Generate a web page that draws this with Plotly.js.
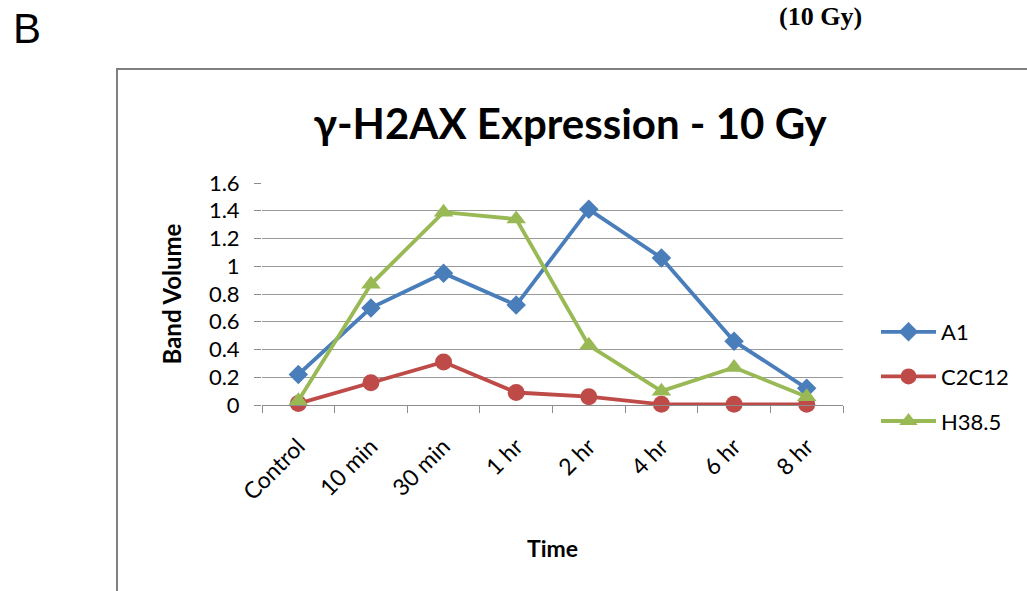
<!DOCTYPE html>
<html>
<head>
<meta charset="utf-8">
<script src="https://cdn.plot.ly/plotly-3.0.1.min.js"></script>
<style>html,body{margin:0;padding:0;background:#fff;}#chart{width:1027px;height:591px;}</style>
</head>
<body>
<div id="chart"></div>
<script>
const categories = ["Control", "10 min", "30 min", "1 hr", "2 hr", "4 hr", "6 hr", "8 hr"];
const seriesNames = ["A1", "C2C12", "H38.5"];
const a1 = [0.22, 0.70, 0.95, 0.72, 1.41, 1.06, 0.46, 0.12];
const c2c12 = [0.01, 0.16, 0.31, 0.09, 0.06, 0.005, 0.005, 0.005];
const h385 = [0.03, 0.87, 1.39, 1.34, 0.43, 0.10, 0.27, 0.06];
const yTicks = [0, 0.2, 0.4, 0.6, 0.8, 1, 1.2, 1.4, 1.6];
const yTickText = ["0", "0.2", "0.4", "0.6", "0.8", "1", "1.2", "1.4", "1.6"];

const FONT = "Lato, 'Open Sans', sans-serif";
const colors = ["#4A7EBB", "#BE4B48", "#98B954"];
const symbols = ["diamond", "circle", "triangle-up"];
const sizes = [15, 17, 17];
const values = [a1, c2c12, h385];

const traces = values.map((v, i) => ({
  type: "scatter",
  mode: "lines+markers",
  x: categories,
  y: v,
  name: seriesNames[i],
  legendgroup: "g" + i,
  line: {color: colors[i], width: 3.8},
  marker: {color: colors[i], symbol: symbols[i], size: sizes[i]},
  cliponaxis: false
}));

const W = 581, H = 222, L = 262, T = 183;
function px(x) { return (x - L) / W; }
function py(y) { return (T + H - y) / H; }

const layout = {
  width: 1027, height: 591,
  margin: {l: L, r: 1027 - L - W, t: T, b: 591 - T - H},
  paper_bgcolor: "#fff", plot_bgcolor: "#fff",
  showlegend: true,
  title: {
    text: "<b>γ-H2AX Expression - 10 Gy</b>",
    font: {family: FONT, size: 42, color: "#000"},
    x: 570 / 1027, xanchor: "center", y: 1 - 124 / 591, yanchor: "middle"
  },
  xaxis: {
    type: "category",
    tickson: "boundaries",
    ticks: "outside", ticklen: 7, tickcolor: "#8c8c8c", tickwidth: 1,
    showline: true, linecolor: "#8c8c8c", linewidth: 1,
    showgrid: false, zeroline: false,
    tickangle: -45,
    ticklabelstandoff: 18,
    tickfont: {family: FONT, size: 23, color: "#000"},
    title: {text: "<b>Time</b>", font: {family: FONT, size: 23, color: "#000"}, standoff: 36},
    range: [-0.5, 7.5]
  },
  yaxis: {
    range: [0, 1.6],
    tickvals: yTicks, ticktext: yTickText,
    ticks: "outside", ticklen: 7, tickcolor: "#8c8c8c",
    ticklabelstandoff: 10,
    showline: false, zeroline: false,
    showgrid: true, gridcolor: "#9a9a9a", gridwidth: 1,
    tickfont: {family: FONT, size: 22, color: "#000"},
    title: {text: "<b>Band Volume</b>", font: {family: FONT, size: 24, color: "#000"}, standoff: 20}
  },
  legend: {
    x: px(876), xanchor: "left", y: py(311), yanchor: "top",
    font: {family: FONT, size: 22, color: "#000"},
    tracegroupgap: 13, itemwidth: 55,
    bgcolor: "rgba(0,0,0,0)"
  },
  shapes: [{
    type: "rect", xref: "paper", yref: "paper",
    x0: px(117), x1: px(1100), y0: py(69), y1: py(700),
    line: {color: "#808080", width: 2}, fillcolor: "rgba(0,0,0,0)"
  }],
  annotations: [
    {text: "B", xref: "paper", yref: "paper", x: px(11), y: py(28), xanchor: "left", yanchor: "middle",
     showarrow: false, font: {family: "'Liberation Sans Narrow', 'Liberation Sans', sans-serif", size: 42, color: "#000"}},
    {text: "<b>(10 Gy)</b>", xref: "paper", yref: "paper", x: px(820), y: py(0), xanchor: "center", yanchor: "top",
     showarrow: false, font: {family: "'Liberation Serif', serif", size: 26, color: "#000"}}
  ]
};

Plotly.newPlot("chart", traces, layout, {displayModeBar: false, staticPlot: true});
</script>
</body>
</html>
